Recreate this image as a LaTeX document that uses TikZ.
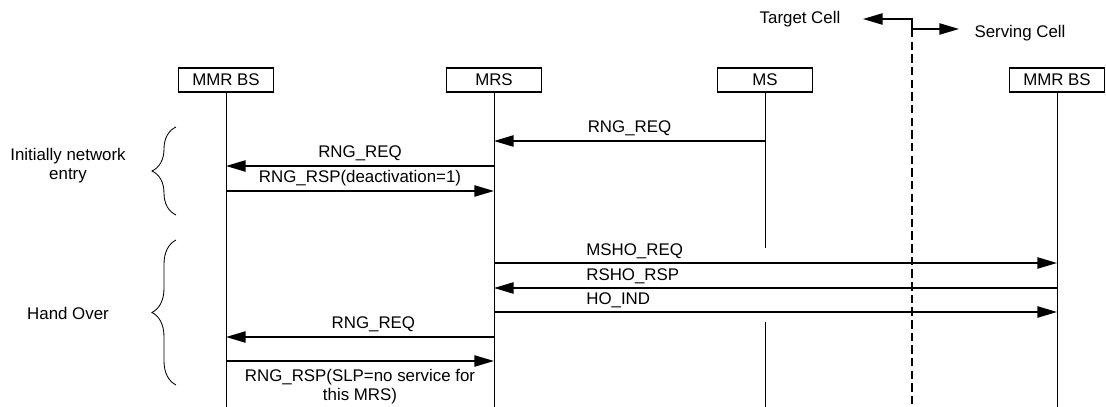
\documentclass[tikz,border=0pt]{standalone}
\usepackage{fontspec}
\setmainfont{Liberation Sans}
\usetikzlibrary{arrows.meta,decorations.pathreplacing}

\begin{document}
\begin{tikzpicture}[x=0.025cm, y=-0.025cm,
        every node/.style={font=\fontsize{12pt}{13.5pt}\selectfont},
        entity/.style={rectangle, draw, line width=0.8pt, inner sep=0pt, minimum height=0.6cm, minimum width=2.37cm},
        lifeline/.style={line width=0.6pt},
        msg/.style={line width=1.2pt, -{Triangle[length=14pt, width=8pt]}},
        lbl/.style={inner sep=1pt},
        grp/.style={decorate, decoration={brace, amplitude=0.6cm}, line width=0.6pt},
        grplbl/.style={align=center, inner sep=0pt},
        divider/.style={line width=1.3pt, dash pattern=on 6pt off 3pt},
        cellarrow/.style={line width=1.2pt, {Triangle[length=14pt, width=8pt]}-{Triangle[length=14pt, width=8pt]}}
    ]
    \useasboundingbox (0,0) rectangle (1106,407);

    % Define entities
    \node[entity] (bsl) at (226,80) {MMR BS};
    \node[entity] (mrs) at (494,80) {MRS};
    \node[entity] (ms) at (765,80) {MS};
    \node[entity] (bsr) at (1057,80) {MMR BS};

    % Define helper coordinates
    \coordinate (bot) at (0,407);
    \coordinate (gapa) at (0,248);
    \coordinate (gapb) at (0,322);
    \foreach \n/\y in {r1/141, r2/166, r3/191, r4/263, r5/288, r6/312, r7/337, r8/361}
        \coordinate (\n) at (0,\y);

    % Draw lifelines
    \draw[lifeline] (bsl.south) -- (bsl |- bot);
    \draw[lifeline] (mrs.south) -- (mrs |- bot);
    \draw[lifeline] (ms.south) -- (ms |- gapa);
    \draw[lifeline] (ms |- gapb) -- (ms |- bot);
    \draw[lifeline] (bsr.south) -- (bsr |- bot);

    % Cell border
    \node (tgt) at (800,19) {Target Cell};
    \node (srv) at (1020,33) {Serving Cell};
    \coordinate (tgtend) at (863,19);
    \coordinate (splittop) at (912,19);
    \coordinate (split) at (912,29);
    \coordinate (srvend) at (959,29);
    \draw[cellarrow] (tgtend) -- (splittop) -- (split) -- (srvend);
    \draw[divider] (split) -- (split |- bot);

    % Initial network entry
    \draw[msg] (ms |- r1) -- node[lbl, above=2pt] {RNG\_REQ} (mrs |- r1);
    \draw[msg] (mrs |- r2) -- node[lbl, above=2pt] {RNG\_REQ} (bsl |- r2);
    \draw[msg] (bsl |- r3) -- node[lbl, above=2pt] {RNG\_RSP(deactivation=1)} (mrs |- r3);

    % Hand over
    \draw[msg] (mrs |- r4) -- node[lbl, above=1pt, anchor=south west, pos=0.16] {MSHO\_REQ} (bsr |- r4);
    \draw[msg] (bsr |- r5) -- node[lbl, above=1pt, anchor=south west, pos=0.84] {RSHO\_RSP} (mrs |- r5);
    \draw[msg] (mrs |- r6) -- node[lbl, above=1pt, anchor=south west, pos=0.16] {HO\_IND} (bsr |- r6);
    \draw[msg] (mrs |- r7) -- node[lbl, above=2pt, pos=0.45] {RNG\_REQ} (bsl |- r7);
    \draw[msg] (bsl |- r8) -- node[lbl, below=4.5pt, align=center] {RNG\_RSP(SLP=no service for\\this MRS)} (mrs |- r8);

    % Phase braces
    \coordinate (b1t) at (176,127);
    \coordinate (b1b) at (176,215);
    \coordinate (b2t) at (176,240);
    \coordinate (b2b) at (176,385);
    \draw[grp] (b1b) -- (b1t);
    \draw[grp] (b2b) -- (b2t);
    \node[grplbl] (init) at (68,166) {Initially network\\entry};
    \node[grplbl] (ho) at (68,313) {Hand Over};

\end{tikzpicture}
\end{document}
